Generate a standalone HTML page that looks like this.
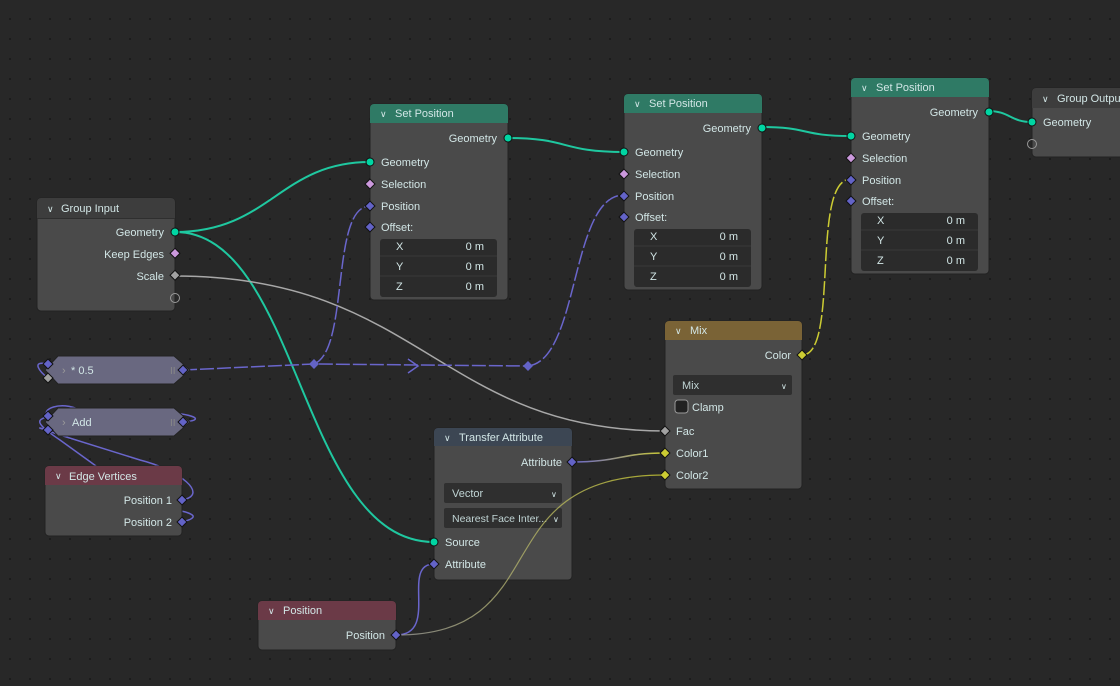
<!DOCTYPE html>
<html><head><meta charset="utf-8"><style>
html,body{margin:0;padding:0;background:#282828;width:1120px;height:686px;overflow:hidden}
svg{display:block}
text{font-family:"Liberation Sans","DejaVu Sans",sans-serif;font-size:11px;fill:#d2e6e6}
</style></head><body>
<svg width="1120" height="686" viewBox="0 0 1120 686" xmlns="http://www.w3.org/2000/svg">
<defs>
<pattern id="dots" x="9" y="18" width="20" height="20" patternUnits="userSpaceOnUse"><rect width="2" height="2" fill="#1c1c1c"/></pattern>
<linearGradient id="gpy" x1="0" x2="1"><stop offset="0" stop-color="#6a66cc"/><stop offset="1" stop-color="#cccc33"/></linearGradient>
<linearGradient id="ggy" x1="0" x2="1"><stop offset="0" stop-color="#999"/><stop offset="1" stop-color="#cccc33"/></linearGradient>
</defs>
<rect width="1120" height="686" fill="#282828"/>
<rect width="1120" height="686" fill="url(#dots)"/>

<!-- wires -->
<g fill="none" stroke-width="2">
<path d="M175,232 C270,232 280,162 370,162" stroke="#1fc8a0"/>
<path d="M175,232 C300,232 300,542 434,542" stroke="#1fc8a0"/>
<path d="M508,138 C570,138 560,152 624,152" stroke="#1fc8a0"/>
<path d="M762,127 C810,127 800,136 851,136" stroke="#1fc8a0"/>
<path d="M988,111 C1010,111 1010,122 1032,122" stroke="#1fc8a0"/>
<path d="M175,276 C420,276 440,431 665,431" stroke="#a8a8a8" stroke-width="1.5"/>
<path d="M183,370 L314,364 L528,366" stroke="#6a66cc" stroke-width="1.5" stroke-dasharray="14,3"/>
<path d="M314,364 C350,350 330,206 370,206" stroke="#6a66cc" stroke-width="1.5" stroke-dasharray="14,3"/>
<path d="M528,366 C580,360 570,195 624,195" stroke="#6a66cc" stroke-width="1.5" stroke-dasharray="14,3"/>
<path d="M408,359 L418,366 L408,373" stroke="#6a66cc" stroke-width="1.5"/>
<path d="M572,462 C620,462 620,453 665,453" stroke="url(#gpy)" stroke-width="1.5"/>
<path d="M396,635 C440,635 400,564 434,564" stroke="#6a66cc" stroke-width="1.5"/>
<path d="M802,355 C840,355 810,179 851,179" stroke="#cccc33" stroke-width="1.5" stroke-dasharray="14,3"/>
<path d="M183,370 C120,390 90,380 48,378" stroke="#6a66cc" stroke-width="1.5"/>
<path d="M48,364 C30,360 40,372 48,378" stroke="#6a66cc" stroke-width="1.5"/>
<path d="M183,422 C210,420 190,412 150,412 L80,410 C60,400 40,410 48,416" stroke="#6a66cc" stroke-width="1.5"/>
<path d="M182,500 C210,495 180,470 140,460 L60,435 C30,425 40,428 48,430" stroke="#6a66cc" stroke-width="1.5"/>
<path d="M182,522 C210,515 180,510 150,505 L60,440 C30,420 40,420 48,416" stroke="#6a66cc" stroke-width="1.5"/>
</g>

<g>
<!-- Group Input -->
<rect x="37" y="198" width="138" height="113" rx="4" fill="#4a4a4a" stroke="#222"/>
<path d="M37,218 V202 a4,4 0 0 1 4,-4 H171 a4,4 0 0 1 4,4 V218 Z" fill="#3d3d3d"/>
<line x1="37" y1="218.5" x2="175" y2="218.5" stroke="#2f2f2f"/>
<text x="47" y="212" style="font-size:9px">∨</text><text x="61" y="212">Group Input</text>
<text x="164" y="236" text-anchor="end">Geometry</text>
<text x="164" y="258" text-anchor="end">Keep Edges</text>
<text x="164" y="280" text-anchor="end">Scale</text>
<circle cx="175" cy="232" r="4" fill="#00d6a3" stroke="#111"/>
<rect x="171" y="250" width="7" height="7" transform="rotate(45 175 254)" fill="#cc99dd" stroke="#111"/>
<rect x="171" y="272" width="7" height="7" transform="rotate(45 175 276)" fill="#a1a1a1" stroke="#111"/>
<circle cx="175" cy="298" r="4.5" fill="none" stroke="#999"/>

<g id="sp1">
<rect x="370" y="104" width="138" height="196" rx="4" fill="#4a4a4a" stroke="#222"/>
<path d="M370,123 V108 a4,4 0 0 1 4,-4 H504 a4,4 0 0 1 4,4 V123 Z" fill="#2f7a65"/>
<text x="380" y="117" style="font-size:9px">∨</text><text x="395" y="117">Set Position</text>
<text x="497" y="142" text-anchor="end">Geometry</text>
<text x="381" y="166">Geometry</text>
<text x="381" y="188">Selection</text>
<text x="381" y="210">Position</text>
<text x="381" y="231">Offset:</text>
<rect x="380" y="239" width="117" height="58" rx="3" fill="#2b2b2b"/>
<line x1="380" y1="256" x2="497" y2="256" stroke="#3a3a3a"/><line x1="380" y1="276" x2="497" y2="276" stroke="#3a3a3a"/>
<text x="396" y="250">X</text><text x="484" y="250" text-anchor="end">0 m</text>
<text x="396" y="270">Y</text><text x="484" y="270" text-anchor="end">0 m</text>
<text x="396" y="290">Z</text><text x="484" y="290" text-anchor="end">0 m</text>
<circle cx="508" cy="138" r="4" fill="#00d6a3" stroke="#111"/>
<circle cx="370" cy="162" r="4" fill="#00d6a3" stroke="#111"/>
<rect x="366.5" y="180.5" width="7" height="7" transform="rotate(45 370 184)" fill="#cc99dd" stroke="#111"/>
<rect x="366.5" y="202.5" width="7" height="7" transform="rotate(45 370 206)" fill="#6363c7" stroke="#111"/>
<rect x="366.5" y="223.5" width="7" height="7" transform="rotate(45 370 227)" fill="#6363c7" stroke="#111"/>
</g>
<use href="#sp1" transform="translate(254,-10)"/>
<use href="#sp1" transform="translate(481,-26)"/>

<!-- Group Output -->
<rect x="1032" y="88" width="100" height="69" rx="4" fill="#4a4a4a" stroke="#222"/>
<path d="M1032,108 V92 a4,4 0 0 1 4,-4 H1130 V108 Z" fill="#3d3d3d"/>
<text x="1042" y="102" style="font-size:9px">∨</text><text x="1057" y="102">Group Output</text>
<text x="1043" y="126">Geometry</text>
<circle cx="1032" cy="122" r="4" fill="#00d6a3" stroke="#111"/>
<circle cx="1032" cy="144" r="4.5" fill="none" stroke="#999"/>

<!-- Mix -->
<rect x="665" y="321" width="137" height="168" rx="4" fill="#4a4a4a" stroke="#222"/>
<path d="M665,340 V325 a4,4 0 0 1 4,-4 H798 a4,4 0 0 1 4,4 V340 Z" fill="#7a6336"/>
<text x="675" y="334" style="font-size:9px">∨</text><text x="690" y="334">Mix</text>
<text x="791" y="359" text-anchor="end">Color</text>
<rect x="673" y="375" width="119" height="20" rx="2" fill="#2f2f2f"/>
<text x="682" y="389" style="fill:#c0d4d4">Mix</text><text x="781" y="389" style="font-size:8px">∨</text>
<rect x="675" y="400" width="13" height="13" rx="3" fill="#222" stroke="#999"/>
<text x="692" y="411">Clamp</text>
<text x="676" y="435">Fac</text>
<text x="676" y="457">Color1</text>
<text x="676" y="479">Color2</text>
<rect x="798.5" y="351.5" width="7" height="7" transform="rotate(45 802 355)" fill="#cccc33" stroke="#111"/>
<rect x="661.5" y="427.5" width="7" height="7" transform="rotate(45 665 431)" fill="#a1a1a1" stroke="#111"/>
<rect x="661.5" y="449.5" width="7" height="7" transform="rotate(45 665 453)" fill="#cccc33" stroke="#111"/>
<rect x="661.5" y="471.5" width="7" height="7" transform="rotate(45 665 475)" fill="#cccc33" stroke="#111"/>

<!-- Transfer Attribute -->
<rect x="434" y="428" width="138" height="152" rx="4" fill="#4a4a4a" stroke="#222"/>
<path d="M434,446 V432 a4,4 0 0 1 4,-4 H568 a4,4 0 0 1 4,4 V446 Z" fill="#3c4653"/>
<text x="444" y="441" style="font-size:9px">∨</text><text x="459" y="441">Transfer Attribute</text>
<text x="562" y="466" text-anchor="end">Attribute</text>
<rect x="444" y="483" width="118" height="20" rx="2" fill="#2f2f2f"/>
<text x="452" y="497" style="fill:#c0d4d4">Vector</text><text x="551" y="497" style="font-size:8px">∨</text>
<rect x="444" y="508" width="118" height="20" rx="2" fill="#2f2f2f"/>
<text x="452" y="522" style="fill:#c0d4d4;font-size:10.5px">Nearest Face Inter...</text><text x="553" y="522" style="font-size:8px">∨</text>
<text x="445" y="546">Source</text>
<text x="445" y="568">Attribute</text>
<rect x="568.5" y="458.5" width="7" height="7" transform="rotate(45 572 462)" fill="#6363c7" stroke="#111"/>
<circle cx="434" cy="542" r="4" fill="#00d6a3" stroke="#111"/>
<rect x="430.5" y="560.5" width="7" height="7" transform="rotate(45 434 564)" fill="#6363c7" stroke="#111"/>
<path d="M396,635 C560,635 480,475 665,475" fill="none" stroke="url(#ggy)" stroke-width="1.2" opacity="0.8"/>

<!-- Position -->
<rect x="258" y="601" width="138" height="49" rx="4" fill="#4a4a4a" stroke="#222"/>
<path d="M258,620 V605 a4,4 0 0 1 4,-4 H392 a4,4 0 0 1 4,4 V620 Z" fill="#6b3a47"/>
<text x="268" y="614" style="font-size:9px">∨</text><text x="283" y="614">Position</text>
<text x="385" y="639" text-anchor="end">Position</text>
<rect x="392.5" y="631.5" width="7" height="7" transform="rotate(45 396 635)" fill="#6363c7" stroke="#111"/>

<!-- Edge Vertices -->
<rect x="45" y="466" width="137" height="70" rx="4" fill="#4a4a4a" stroke="#222"/>
<path d="M45,485 V470 a4,4 0 0 1 4,-4 H178 a4,4 0 0 1 4,4 V485 Z" fill="#6b3a47"/>
<text x="55" y="479" style="font-size:9px">∨</text><text x="69" y="480">Edge Vertices</text>
<text x="172" y="504" text-anchor="end">Position 1</text>
<text x="172" y="526" text-anchor="end">Position 2</text>
<rect x="178.5" y="496.5" width="7" height="7" transform="rotate(45 182 500)" fill="#6363c7" stroke="#111"/>
<rect x="178.5" y="518.5" width="7" height="7" transform="rotate(45 182 522)" fill="#6363c7" stroke="#111"/>

<!-- collapsed math nodes -->
<path d="M58,356 H174 L190,370 L174,384 H58 L45,370 Z" fill="#696880" stroke="#222"/>
<text x="62" y="374" style="fill:#999">›</text><text x="71" y="374">* 0.5</text>
<text x="170" y="374" style="fill:#888;font-size:10px">II</text>
<rect x="44.5" y="360.5" width="7" height="7" transform="rotate(45 48 364)" fill="#6363c7" stroke="#111"/>
<rect x="44.5" y="374.5" width="7" height="7" transform="rotate(45 48 378)" fill="#a1a1a1" stroke="#111"/>
<rect x="179.5" y="366.5" width="7" height="7" transform="rotate(45 183 370)" fill="#6363c7" stroke="#111"/>
<path d="M58,408 H174 L190,422 L174,436 H58 L45,422 Z" fill="#696880" stroke="#222"/>
<text x="62" y="426" style="fill:#999">›</text><text x="72" y="426">Add</text>
<text x="170" y="426" style="fill:#888;font-size:10px">II</text>
<rect x="44.5" y="412.5" width="7" height="7" transform="rotate(45 48 416)" fill="#6363c7" stroke="#111"/>
<rect x="44.5" y="426.5" width="7" height="7" transform="rotate(45 48 430)" fill="#6363c7" stroke="#111"/>
<rect x="179.5" y="418.5" width="7" height="7" transform="rotate(45 183 422)" fill="#6363c7" stroke="#111"/>

<rect x="310.5" y="360.5" width="7" height="7" transform="rotate(45 314 364)" fill="#6363c7"/>
<rect x="524.5" y="362.5" width="7" height="7" transform="rotate(45 528 366)" fill="#6363c7"/>
</g>
</svg>
</body></html>
